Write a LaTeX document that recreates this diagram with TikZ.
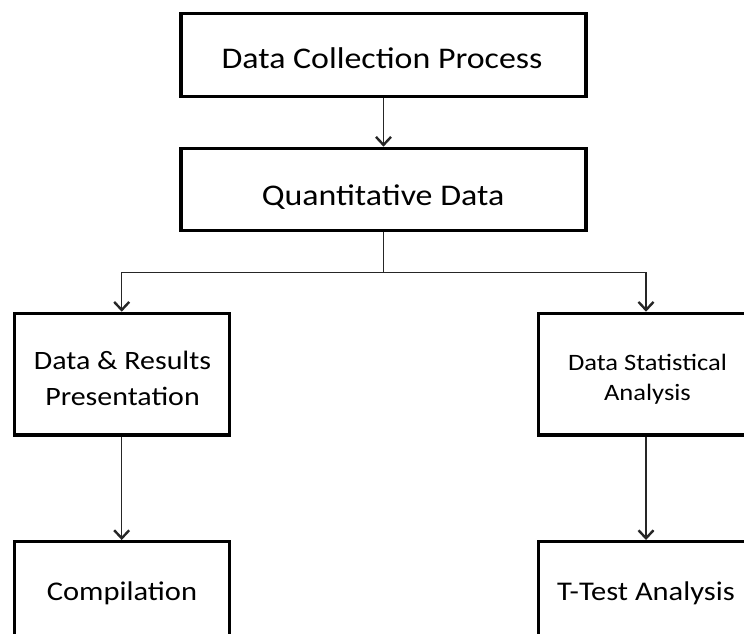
\documentclass[tikz,border=0pt]{standalone}
\usepackage{graphicx}
\usepackage{fontspec}
\setmainfont{Carlito}
\usetikzlibrary{arrows.meta}
\newcommand{\wideT}[1]{\scalebox{1.13}[1]{#1}}
\tikzset{
  box/.style={draw=black, line width=3.3pt, rectangle, inner sep=0pt, fill=white},
  bigtxt/.style={anchor=base, inner sep=0pt, font=\fontsize{30}{36}\selectfont},
  midtxt/.style={anchor=base, inner sep=0pt, font=\fontsize{26.5}{32}\selectfont},
  bottxt/.style={anchor=base, inner sep=0pt, font=\fontsize{27}{32}\selectfont},
  smalltxt/.style={anchor=base, inner sep=0pt, font=\fontsize{23.5}{28}\selectfont},
  conn/.style={draw=black!85, line width=1.3pt,
    -{Straight Barb[length=8pt,width=15pt,line width=2.4pt]}},
  plainconn/.style={draw=black!85, line width=1.3pt},
}
\begin{document}
\begin{tikzpicture}[x=1pt,y=-1pt]
\clip (0,0) rectangle (744,633);
\fill[white] (0,0) rectangle (744,633);
% boxes
\node[box, minimum width=405pt, minimum height=83.4pt] (top) at (383.5,55) {};
\node[box, minimum width=405pt, minimum height=82.4pt] (quant) at (383.5,189.5) {};
\node[box, minimum width=215pt, minimum height=121.7pt] (left) at (121.7,374.2) {};
\node[box, minimum width=215pt, minimum height=121.7pt] (right) at (646,374.2) {};
\node[box, minimum width=215pt, minimum height=121.7pt] (comp) at (121.7,602.5) {};
\node[box, minimum width=215pt, minimum height=121.7pt] (ttest) at (646,602.5) {};
% texts
\node[bigtxt] (ttop) at (382,68) {\wideT{Data Collection Process}};
\node[bigtxt] (tquant) at (383,205) {\wideT{Quantitative Data}};
\node[midtxt] (tl1) at (122.5,369.3) {\wideT{Data \& Results}};
\node[midtxt] (tl2) at (122.5,405) {\wideT{Presentation}};
\node[smalltxt] (tr1) at (647.5,370) {\wideT{Data Statistical}};
\node[smalltxt] (tr2) at (647.5,400) {\wideT{Analysis}};
\node[bottxt] (tcomp) at (122,600) {\wideT{Compilation}};
\node[bottxt] (tttest) at (646,600) {\wideT{T-Test Analysis}};
% connectors
\coordinate (split) at (quant.south |- 0,272.5);
\draw[conn] (top.south) -- (quant.north);
\draw[plainconn] (quant.south) -- (split);
\draw[conn] (split) -| (left.north);
\draw[conn] (split) -| (right.north);
\draw[conn] (left.south) -- (comp.north);
\draw[conn] (right.south) -- (ttest.north);
\end{tikzpicture}
\end{document}
